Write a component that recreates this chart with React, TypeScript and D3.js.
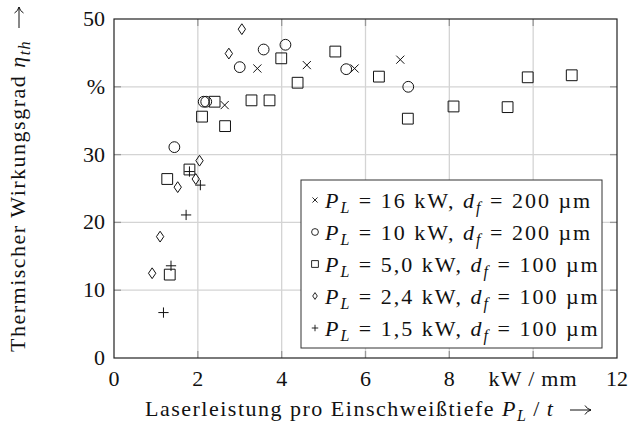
import React from 'react';
import * as d3 from 'd3';

const xTicks = [0, 2, 4, 6, 8, 10, 12];
const xTickLabels = ['0', '2', '4', '6', '8', 'kW\u2009/\u2009mm', '12'];
const yTicks = [0, 10, 20, 30, 40, 50];
const yTickLabels = ['0', '10', '20', '30', '%', '50'];

// × P_L = 16 kW, d_f = 200 µm
const s16x = [2.64, 3.42, 4.6, 5.74, 6.83];
const s16y = [37.3, 42.7, 43.2, 42.7, 44.0];
// ○ P_L = 10 kW, d_f = 200 µm
const s10x = [1.44, 2.14, 2.2, 3.0, 3.57, 4.09, 5.54, 7.02];
const s10y = [31.1, 37.8, 37.8, 42.9, 45.5, 46.2, 42.6, 40.0];
// □ P_L = 5,0 kW, d_f = 100 µm
const s5x = [1.27, 1.33, 1.8, 2.1, 2.4, 2.65, 3.28, 3.71, 3.99, 4.38, 5.28, 6.32, 7.01, 8.1, 9.39, 9.87, 10.92];
const s5y = [26.4, 12.3, 27.8, 35.6, 37.8, 34.2, 38.0, 38.0, 44.2, 40.6, 45.2, 41.5, 35.3, 37.1, 37.0, 41.4, 41.7];
// ◇ P_L = 2,4 kW, d_f = 100 µm
const s24x = [0.91, 1.1, 1.52, 1.95, 2.04, 2.74, 3.05];
const s24y = [12.5, 17.9, 25.2, 26.4, 29.1, 44.9, 48.5];
// + P_L = 1,5 kW, d_f = 100 µm
const s15x = [1.18, 1.36, 1.72, 1.8, 2.06];
const s15y = [6.7, 13.6, 21.1, 27.5, 25.5];

const seriesPower = ['16', '10', '5,0', '2,4', '1,5'];
const seriesDiam = ['200', '200', '100', '100', '100'];
const seriesMarker = ['cross', 'circle', 'square', 'diamond', 'plus'];
const seriesXs = [s16x, s10x, s5x, s24x, s15x];
const seriesYs = [s16y, s10y, s5y, s24y, s15y];

const W = 630;
const H = 432;
const FONT = '"Liberation Serif", "Times New Roman", serif';

function markerPath(kind: string, s: number): string {
  switch (kind) {
    case 'cross': {
      const h = s * 0.75;
      return `M${-h},${-h}L${h},${h}M${-h},${h}L${h},${-h}`;
    }
    case 'circle':
      return `M${s},0A${s},${s} 0 1,1 ${-s},0A${s},${s} 0 1,1 ${s},0Z`;
    case 'square':
      return `M${-s},${-s}H${s}V${s}H${-s}Z`;
    case 'diamond': {
      const w = s * 0.68;
      return `M0,${-s}L${w},0L0,${s}L${-w},0Z`;
    }
    default:
      return `M${-s * 0.95},0H${s * 0.95}M0,${-s * 0.95}V${s * 0.95}`;
  }
}

export default function App() {
  const x = d3.scaleLinear().domain([0, 12]).range([114, 617]);
  const y = d3.scaleLinear().domain([0, 50]).range([358, 19]);
  const [x0, x1] = x.range();
  const [y0, y1] = y.range();
  const tickLen = 7;
  const fs = 22;
  const ls = 1.5;

  const legX = 301, legY = 180, legW = 301, legH = 168;
  const rowH = 32;

  const xArrowY = 410;
  const yArrowX = 19;

  return (
    <svg width={W} height={H} style={{ position: 'absolute', left: 0, top: 0, background: '#fff' }} fontFamily={FONT}>
      {/* grid */}
      {xTicks.slice(1, -1).map((t) => (
        <line key={'gx' + t} x1={x(t)} x2={x(t)} y1={y1} y2={y0} stroke="#d4d4d4" strokeWidth={1.3} />
      ))}
      {yTicks.slice(1, -1).map((t) => (
        <line key={'gy' + t} x1={x0} x2={x1} y1={y(t)} y2={y(t)} stroke="#d4d4d4" strokeWidth={1.3} />
      ))}
      {/* ticks */}
      {xTicks.slice(1, -1).map((t) => (
        <g key={'tx' + t} stroke="#999" strokeWidth={1.3}>
          <line x1={x(t)} x2={x(t)} y1={y0} y2={y0 - tickLen} />
          <line x1={x(t)} x2={x(t)} y1={y1} y2={y1 + tickLen} />
        </g>
      ))}
      {yTicks.slice(1, -1).map((t) => (
        <g key={'ty' + t} stroke="#999" strokeWidth={1.3}>
          <line x1={x0} x2={x0 + tickLen} y1={y(t)} y2={y(t)} />
          <line x1={x1} x2={x1 - tickLen} y1={y(t)} y2={y(t)} />
        </g>
      ))}
      {/* points */}
      {seriesXs.map((xs, si) =>
        xs.map((v, i) => (
          <path
            key={'p' + si + '-' + i}
            d={markerPath(seriesMarker[si], 5.4)}
            transform={`translate(${x(v)},${y(seriesYs[si][i])})`}
            fill="none"
            stroke="#111"
            strokeWidth={1}
          />
        ))
      )}
      {/* box */}
      <rect x={x0} y={y1} width={x1 - x0} height={y0 - y1} fill="none" stroke="#222" strokeWidth={1.2} />
      {/* tick labels */}
      {xTicks.map((t, i) => (
        <text key={'xl' + t} x={x(t)} y={y0 + 28} textAnchor="middle" fontSize={fs} fill="#111" letterSpacing={i === 5 ? 1.2 : 0}>
          {xTickLabels[i]}
        </text>
      ))}
      {yTicks.map((t, i) => (
        <text key={'yl' + t} x={x0 - 9} y={y(t) + 7} textAnchor="end" fontSize={fs} fill="#111">
          {yTickLabels[i]}
        </text>
      ))}
      {/* legend */}
      <rect x={legX} y={legY} width={legW} height={legH} fill="#fff" stroke="#333" strokeWidth={1} />
      {seriesPower.map((p, i) => {
        const base = legY + 28 + rowH * i;
        return (
          <g key={'lg' + i}>
            <path d={markerPath(seriesMarker[i], 3.4)} transform={`translate(${legX + 14},${base - 8})`} fill="none" stroke="#111" strokeWidth={0.9} />
            <text x={legX + 24} y={base} fontSize={fs} fill="#111" letterSpacing={2}>
              <tspan fontStyle="italic">P</tspan>
              <tspan fontStyle="italic" fontSize={16} dy={5}>L</tspan>
              <tspan dy={-5}>{` = ${p} kW, `}</tspan>
              <tspan fontStyle="italic">d</tspan>
              <tspan fontStyle="italic" fontSize={16} dy={5}>f</tspan>
              <tspan dy={-5}>{` = ${seriesDiam[i]} µm`}</tspan>
            </text>
          </g>
        );
      })}
      {/* axis titles */}
      <text x={145} y={416} fontSize={fs} fill="#111" letterSpacing={ls}>
        <tspan>Laserleistung pro Einschweißtiefe </tspan>
        <tspan fontStyle="italic">P</tspan>
        <tspan fontStyle="italic" fontSize={16} dy={5}>L</tspan>
        <tspan dy={-5}>{'\u2009/\u2009'}</tspan>
        <tspan fontStyle="italic">t</tspan>
      </text>
      <path
        d={`M570,${xArrowY}H591M585,${xArrowY - 4.5}Q587,${xArrowY - 1} 591,${xArrowY}Q587,${xArrowY + 1} 585,${xArrowY + 4.5}`}
        fill="none"
        stroke="#111"
        strokeWidth={1}
      />
      <g transform="translate(25,352) rotate(-90)">
        <text x={0} y={0} fontSize={fs} fill="#111" letterSpacing={ls}>
          <tspan>Thermischer Wirkungsgrad </tspan>
          <tspan fontStyle="italic">η</tspan>
          <tspan fontStyle="italic" fontSize={16} dy={5}>th</tspan>
        </text>
      </g>
      <path
        d={`M${yArrowX},28V7M${yArrowX - 4.5},13Q${yArrowX - 1},11 ${yArrowX},7Q${yArrowX + 1},11 ${yArrowX + 4.5},13`}
        fill="none"
        stroke="#111"
        strokeWidth={1}
      />
    </svg>
  );
}
